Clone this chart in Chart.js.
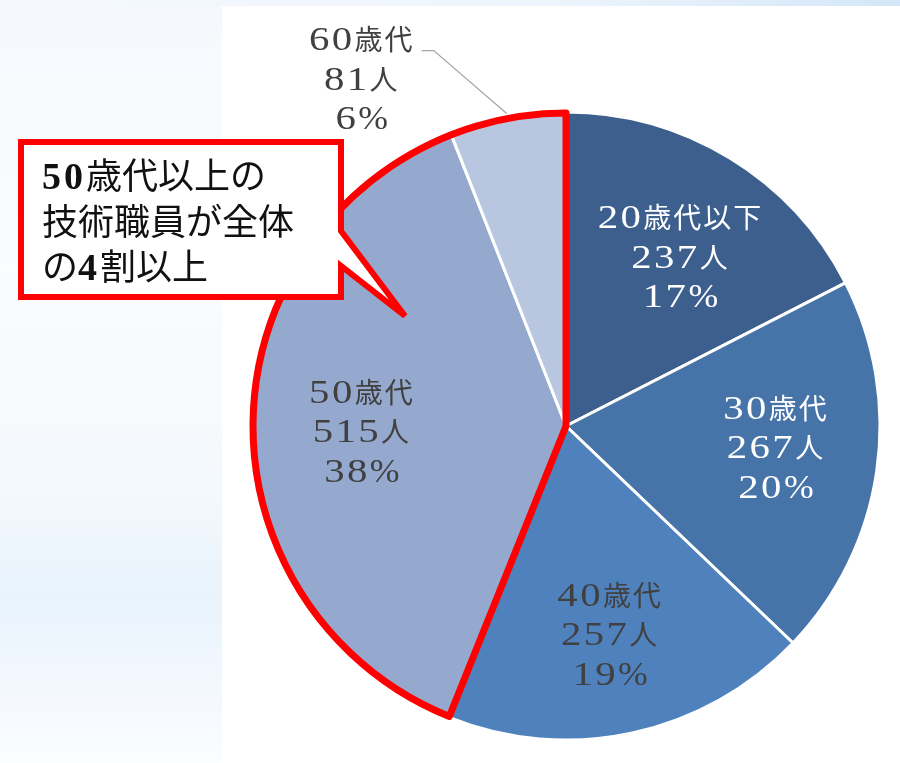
<!DOCTYPE html>
<html lang="ja">
<head>
<meta charset="utf-8">
<title>技術職員 年代別構成</title>
<script src="https://cdn.jsdelivr.net/npm/chart.js@4.4.1/dist/chart.umd.min.js"></script>
<style>
  html, body { margin: 0; padding: 0; }
  body {
    width: 900px; height: 763px; position: relative; overflow: hidden;
    background: linear-gradient(180deg, #f5f9fd 0%, #fafcfe 35%, #f4f9fd 64%, #e8f3fc 78%, #f3f8fe 90%, #fbfdff 100%);
  }
  #topband { position: absolute; left: 0; top: 0; width: 900px; height: 6px;
    background: linear-gradient(90deg, #f5f9fd 0%, #eef5fc 60%, #d4e7f8 100%); }
  #panel { position: absolute; left: 222px; top: 6px; width: 678px; height: 757px; background: #fff; }
  #ageChart { position: absolute; left: 0; top: 0; }
  #callout { position: absolute; left: 0; top: 0; }
</style>
</head>
<body>
<div id="topband"></div>
<div id="panel"></div>
<canvas id="ageChart" width="900" height="763"></canvas>
<svg id="callout" width="900" height="763" xmlns="http://www.w3.org/2000/svg">
  <path d="M21 142 H341 V231 L405 316 L341 266 V297 H21 Z" fill="#fff" stroke="#ff0000" stroke-width="6"/>
  <text font-family="'Noto Sans CJK JP', sans-serif" font-size="36" fill="#111">
    <tspan x="42" y="189"><tspan font-family="'Liberation Serif', serif" font-weight="bold" font-size="38" letter-spacing="3">50</tspan>歳代以上の</tspan>
    <tspan x="42" y="235">技術職員が全体</tspan>
    <tspan x="42" y="280">の<tspan font-family="'Liberation Serif', serif" font-weight="bold" font-size="38" letter-spacing="3">4</tspan>割以上</tspan>
  </text>
</svg>
<script>
(function () {
  const categories = ['20歳代以下', '30歳代', '40歳代', '50歳代', '60歳代'];
  const headcounts = [237, 267, 257, 515, 81];

  const sliceColors = ['#3c5f8e', '#4673a8', '#4f81bd', '#95a9cf', '#b9c6e0'];
  const labelColors = ['#ffffff', '#ffffff', '#404040', '#404040', '#404040'];
  // small hand nudges so labels sit where the original placed them
  const labelNudge = [[8, 5], [8, -8], [1, 9], [0, 6], [0, -3]];

  const DIGIT_FONT = '34px "Liberation Serif", serif';
  const PCT_FONT = '34px "Liberation Serif", serif';
  const CJK_FONT = '28px "Noto Sans CJK JP", sans-serif';
  const DIGIT_STRETCH = 1.2;
  const LINE_GAP = 39.5;

  const total = headcounts.reduce((acc, v) => acc + v, 0);

  function runStyle(s) {
    if (/^[0-9]+$/.test(s)) return { font: DIGIT_FONT, spacing: 2, stretch: DIGIT_STRETCH };
    if (s === '%') return { font: PCT_FONT, spacing: 0, stretch: 1.05 };
    return { font: CJK_FONT, spacing: 2, stretch: 1 };
  }

  // digits in a (widened) serif face, kana/kanji in a gothic face
  function drawMixed(ctx, text, cx, cy, color) {
    const runs = text.match(/[0-9]+|%|[^0-9%]+/g).map(s => Object.assign({ s }, runStyle(s)));
    runs.forEach(r => {
      ctx.font = r.font;
      ctx.letterSpacing = r.spacing + 'px';
      r.w = ctx.measureText(r.s).width * r.stretch;
    });
    const width = runs.reduce((acc, r) => acc + r.w, 0);
    let x = cx - width / 2;
    ctx.fillStyle = color;
    ctx.textAlign = 'left';
    ctx.textBaseline = 'alphabetic';
    runs.forEach(r => {
      ctx.save();
      ctx.font = r.font;
      ctx.letterSpacing = r.spacing + 'px';
      ctx.translate(x, cy + 11);
      ctx.scale(r.stretch, 1);
      ctx.fillText(r.s, 0, 0);
      ctx.restore();
      x += r.w;
    });
  }

  const highlightOutline = {
    id: 'highlightOutline',
    afterDatasetsDraw(chart) {
      const ctx = chart.ctx;
      const arcs = chart.getDatasetMeta(0).data;
      const first = arcs[3];
      const last = arcs[4];
      ctx.save();
      ctx.beginPath();
      ctx.moveTo(first.x, first.y);
      ctx.arc(first.x, first.y, first.outerRadius - 1, first.startAngle, last.endAngle);
      ctx.closePath();
      ctx.lineWidth = 7;
      ctx.lineJoin = 'round';
      ctx.strokeStyle = '#ff0000';
      ctx.stroke();
      ctx.restore();
    }
  };

  const sliceLabels = {
    id: 'sliceLabels',
    afterDatasetsDraw(chart) {
      const ctx = chart.ctx;
      const arcs = chart.getDatasetMeta(0).data;
      ctx.save();
      arcs.forEach((arc, i) => {
        const lines = [categories[i], headcounts[i] + '人', Math.round(headcounts[i] * 100 / total) + '%'];
        const mid = (arc.startAngle + arc.endAngle) / 2;
        let cx, cy;
        if (i === arcs.length - 1) {
          // small slice: label outside with a leader line
          const px = arc.x + Math.cos(mid) * (arc.outerRadius + 4);
          const py = arc.y + Math.sin(mid) * (arc.outerRadius + 4);
          const ex = px - 73, ey = py - 63;
          ctx.beginPath();
          ctx.moveTo(px, py);
          ctx.lineTo(ex, ey);
          ctx.lineTo(ex - 12, ey);
          ctx.strokeStyle = '#a6a6a6';
          ctx.lineWidth = 1.3;
          ctx.stroke();
          cx = ex - 72;
          cy = ey + 31;
        } else {
          cx = arc.x + Math.cos(mid) * arc.outerRadius * 0.65;
          cy = arc.y + Math.sin(mid) * arc.outerRadius * 0.65;
        }
        cx += labelNudge[i][0];
        cy += labelNudge[i][1];
        lines.forEach((t, k) => drawMixed(ctx, t, cx, cy + (k - 1) * LINE_GAP, labelColors[i]));
      });
      ctx.restore();
    }
  };

  new Chart(document.getElementById('ageChart'), {
    type: 'pie',
    data: {
      labels: categories,
      datasets: [
        {
          data: headcounts,
          backgroundColor: sliceColors,
          borderColor: '#ffffff',
          borderWidth: 3,
          radius: 314
        }
      ]
    },
    options: {
      responsive: false,
      animation: false,
      layout: { padding: { left: 252, right: 20, top: 112, bottom: 23 } },
      plugins: {
        legend: { display: false },
        tooltip: { enabled: false }
      }
    },
    plugins: [highlightOutline, sliceLabels]
  });
})();
</script>
</body>
</html>
